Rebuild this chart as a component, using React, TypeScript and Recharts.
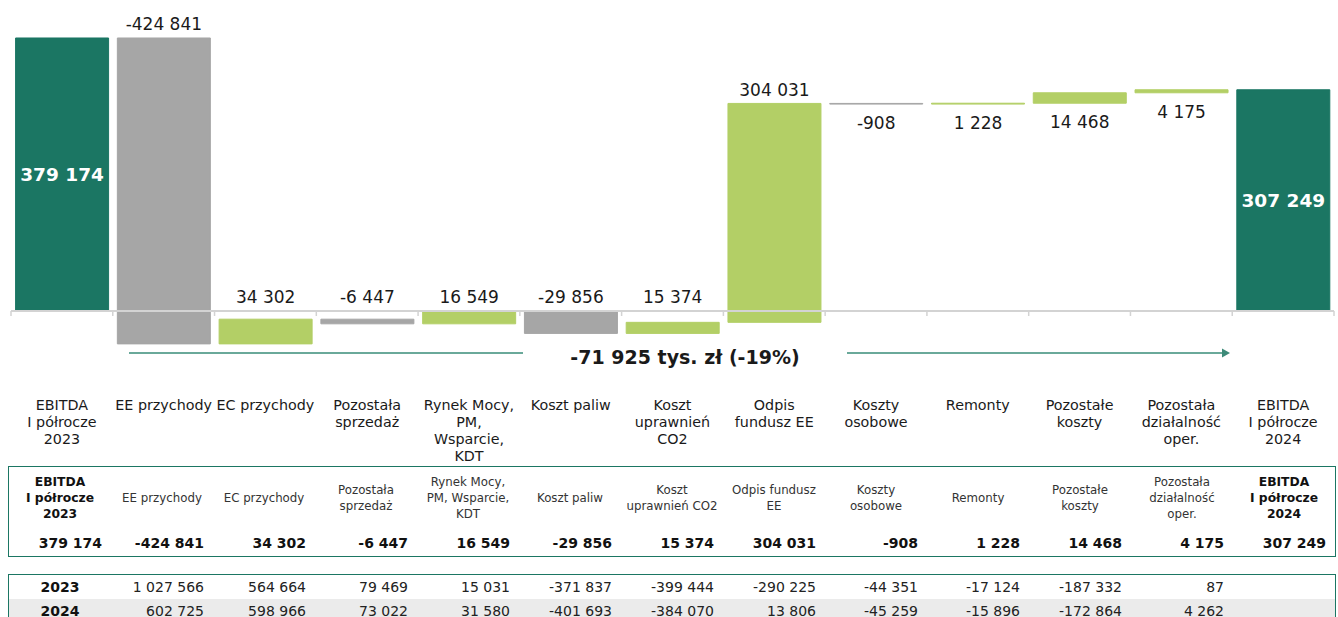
import React from "react"
import { Bar, Cell, ComposedChart, LabelList, ReferenceLine, XAxis, YAxis } from "recharts"

// chart categories (line breaks as in the original axis)
const categories = [
  ["EBITDA", "I półrocze", "2023"],
  ["EE przychody"],
  ["EC przychody"],
  ["Pozostała", "sprzedaż"],
  ["Rynek Mocy,", "PM,", "Wsparcie,", "KDT"],
  ["Koszt paliw"],
  ["Koszt", "uprawnień", "CO2"],
  ["Odpis", "fundusz EE"],
  ["Koszty", "osobowe"],
  ["Remonty"],
  ["Pozostałe", "koszty"],
  ["Pozostała", "działalność", "oper."],
  ["EBITDA", "I półrocze", "2024"],
]

// table header labels
const tableHeaders = [
  ["EBITDA", "I półrocze", "2023"],
  ["EE przychody"],
  ["EC przychody"],
  ["Pozostała", "sprzedaż"],
  ["Rynek Mocy,", "PM, Wsparcie,", "KDT"],
  ["Koszt paliw"],
  ["Koszt", "uprawnień CO2"],
  ["Odpis fundusz", "EE"],
  ["Koszty", "osobowe"],
  ["Remonty"],
  ["Pozostałe", "koszty"],
  ["Pozostała", "działalność", "oper."],
  ["EBITDA", "I półrocze", "2024"],
]

// first and last are totals, the rest are changes
const deltas = [379174, -424841, 34302, -6447, 16549, -29856, 15374, 304031, -908, 1228, 14468, 4175, 307249]

const years = ["2023", "2024"]
const values2023 = [1027566, 564664, 79469, 15031, -371837, -399444, -290225, -44351, -17124, -187332, 87]
const values2024 = [602725, 598966, 73022, 31580, -401693, -384070, 13806, -45259, -15896, -172864, 4262]

const summary = "-71 925 tys. zł (-19%)"

const DARK = "#1b7663"
const GREEN = "#b3cf66"
const GREY = "#a6a6a6"
const AXIS = "#d3d3d3"
const FONT = "'DejaVu Sans', Verdana, sans-serif"

const W = 1338
const CHART_H = 465
const MARGIN = { top: 23, right: 4, bottom: 0, left: 11 }
const AXIS_H = 118
const Y_DOMAIN: [number, number] = [-50000, 400000]
const PLOT_H = CHART_H - MARGIN.top - MARGIN.bottom - AXIS_H
const PLOT_W = W - MARGIN.left - MARGIN.right
const ZERO_Y = MARGIN.top + (Y_DOMAIN[1] / (Y_DOMAIN[1] - Y_DOMAIN[0])) * PLOT_H

function fmt(v: number) {
  const s = Math.abs(v)
    .toString()
    .replace(/\B(?=(\d{3})+(?!\d))/g, " ")
  return (v < 0 ? "-" : "") + s
}

type Row = { name: string; low: number; high: number; delta: number; isTotal: boolean; label: number }

const rows: Row[] = (() => {
  let run = 0
  return deltas.map((d, i) => {
    const isTotal = i === 0 || i === deltas.length - 1
    let low: number
    let high: number
    if (isTotal) {
      low = 0
      high = d
      run = d
    } else {
      const next = run + d
      low = Math.min(run, next)
      high = Math.max(run, next)
      run = next
    }
    return { name: categories[i].join("\n"), low, high, delta: d, isTotal, label: d }
  })
})()

const labelsBelow = new Set([8, 9, 10, 11])

function StepLabel(props: any) {
  const index: number = props.index
  const vb = props.viewBox && props.viewBox.width != null ? props.viewBox : props
  const x = Number(vb.x)
  const width = Number(vb.width)
  const rawY = Number(vb.y)
  const rawH = Number(vb.height)
  const y = rawH < 0 ? rawY + rawH : rawY
  const height = Math.abs(rawH)
  const row = rows[index]
  if (!row) return null
  const cx = x + width / 2
  if (row.isTotal) {
    return (
      <text x={cx} y={y + height / 2} dy="0.36em" textAnchor="middle" fill="#fff" fontWeight="bold" fontSize={18.5} fontFamily={FONT}>
        {fmt(row.label)}
      </text>
    )
  }
  const k = height / (row.high - row.low || 1)
  const zeroY = y + row.high * k
  const ly = labelsBelow.has(index) ? y + height + 19 : Math.min(y, zeroY) - 14
  return (
    <text x={cx} y={ly} dy="0.36em" textAnchor="middle" fill="#1a1a1a" fontSize={17} fontFamily={FONT}>
      {fmt(row.label)}
    </text>
  )
}

function CategoryTick(props: any) {
  const { x, y, payload, index } = props
  const lines = String(payload.value).split("\n")
  const band = PLOT_W / categories.length
  const left = x - band / 2
  const right = x + band / 2
  return (
    <g>
      <line x1={left} y1={ZERO_Y} x2={left} y2={ZERO_Y + 5} stroke={AXIS} strokeWidth={1.5} />
      {index === categories.length - 1 && (
        <line x1={right} y1={ZERO_Y} x2={right} y2={ZERO_Y + 5} stroke={AXIS} strokeWidth={1.5} />
      )}
      <text x={x} y={y + 63} textAnchor="middle" fill="#1a1a1a" fontSize={14.3} fontFamily={FONT}>
        {lines.map((l, i) => (
          <tspan key={i} x={x} dy={i === 0 ? 0 : 17}>
            {l}
          </tspan>
        ))}
      </text>
    </g>
  )
}

function Waterfall() {
  return (
    <ComposedChart width={W} height={CHART_H} data={rows} margin={MARGIN} barCategoryGap="4.5%">
      <XAxis
        dataKey="name"
        type="category"
        axisLine={false}
        tickLine={false}
        tickSize={0}
        tickMargin={0}
        height={AXIS_H}
        interval={0}
        tick={<CategoryTick />}
      />
      <YAxis type="number" domain={Y_DOMAIN} hide allowDataOverflow />
      <Bar dataKey={(d: Row) => [d.low, d.high]} isAnimationActive={false} strokeWidth={1}>
        {rows.map((r, i) => {
          const c = r.isTotal ? DARK : r.delta >= 0 ? GREEN : GREY
          return <Cell key={i} fill={c} stroke={c} />
        })}
        <LabelList dataKey="label" content={<StepLabel />} />
      </Bar>
      <ReferenceLine y={0} stroke={AXIS} strokeWidth={2} />
    </ComposedChart>
  )
}

function Arrow() {
  return (
    <svg width={W} height={30} style={{ position: "absolute", left: 0, top: 340 }}>
      <line x1={129} y1={13} x2={523} y2={13} stroke="#6aa99a" strokeWidth={2} />
      <line x1={847} y1={13} x2={1223} y2={13} stroke="#6aa99a" strokeWidth={2} />
      <polygon points="1222,8.5 1230,13 1222,17.5" fill="#3d8a78" />
      <text x={685} y={17} dy="0.36em" textAnchor="middle" fontWeight="bold" fontSize={19} fontFamily={FONT} fill="#1a1a1a">
        {summary}
      </text>
    </svg>
  )
}

const cellBase: React.CSSProperties = {
  display: "flex",
  alignItems: "center",
  boxSizing: "border-box",
}

function SummaryTable() {
  const n = tableHeaders.length
  return (
    <div
      style={{
        position: "absolute",
        left: 8,
        top: 466,
        width: 1328,
        height: 91,
        boxSizing: "border-box",
        border: `1.5px solid ${DARK}`,
        display: "grid",
        gridTemplateColumns: `repeat(${n}, 1fr)`,
        gridTemplateRows: "62px 27px",
        fontFamily: FONT,
        color: "#222",
      }}
    >
      {tableHeaders.map((h, i) => {
        const bold = i === 0 || i === n - 1
        return (
          <div
            key={"h" + i}
            style={{
              ...cellBase,
              justifyContent: "center",
              textAlign: "center",
              flexDirection: "column",
              fontSize: bold ? 12.3 : 11.8,
              lineHeight: "16px",
              fontWeight: bold ? "bold" : "normal",
              color: bold ? "#111" : "#333",
            }}
          >
            {h.map((l, j) => (
              <div key={j}>{l}</div>
            ))}
          </div>
        )
      })}
      {deltas.map((d, i) => (
        <div
          key={"v" + i}
          style={{ ...cellBase, justifyContent: "flex-end", paddingRight: 9, fontSize: 14, fontWeight: "bold", color: "#111" }}
        >
          {fmt(d)}
        </div>
      ))}
    </div>
  )
}

function YearTable() {
  const n = tableHeaders.length
  const data = [values2023, values2024]
  return (
    <div
      style={{
        position: "absolute",
        left: 8,
        top: 574,
        width: 1328,
        height: 60,
        boxSizing: "border-box",
        border: `1.5px solid ${DARK}`,
        fontFamily: FONT,
        color: "#222",
      }}
    >
      {years.map((yr, r) => (
        <div
          key={yr}
          style={{
            display: "grid",
            gridTemplateColumns: `repeat(${n}, 1fr)`,
            height: r === 0 ? 23.5 : 24,
            background: r === 1 ? "#ebebeb" : "transparent",
          }}
        >
          <div style={{ ...cellBase, justifyContent: "center", fontWeight: "bold", fontSize: 14, color: "#111" }}>{yr}</div>
          {data[r].map((v, i) => (
            <div key={i} style={{ ...cellBase, justifyContent: "flex-end", paddingRight: 9, fontSize: 14 }}>
              {fmt(v)}
            </div>
          ))}
          <div />
        </div>
      ))}
    </div>
  )
}

export default function App() {
  return (
    <div style={{ position: "relative", width: W, height: 617, overflow: "hidden", background: "#fff" }}>
      <style>{`body{margin:0}`}</style>
      <Waterfall />
      <Arrow />
      <SummaryTable />
      <YearTable />
    </div>
  )
}
